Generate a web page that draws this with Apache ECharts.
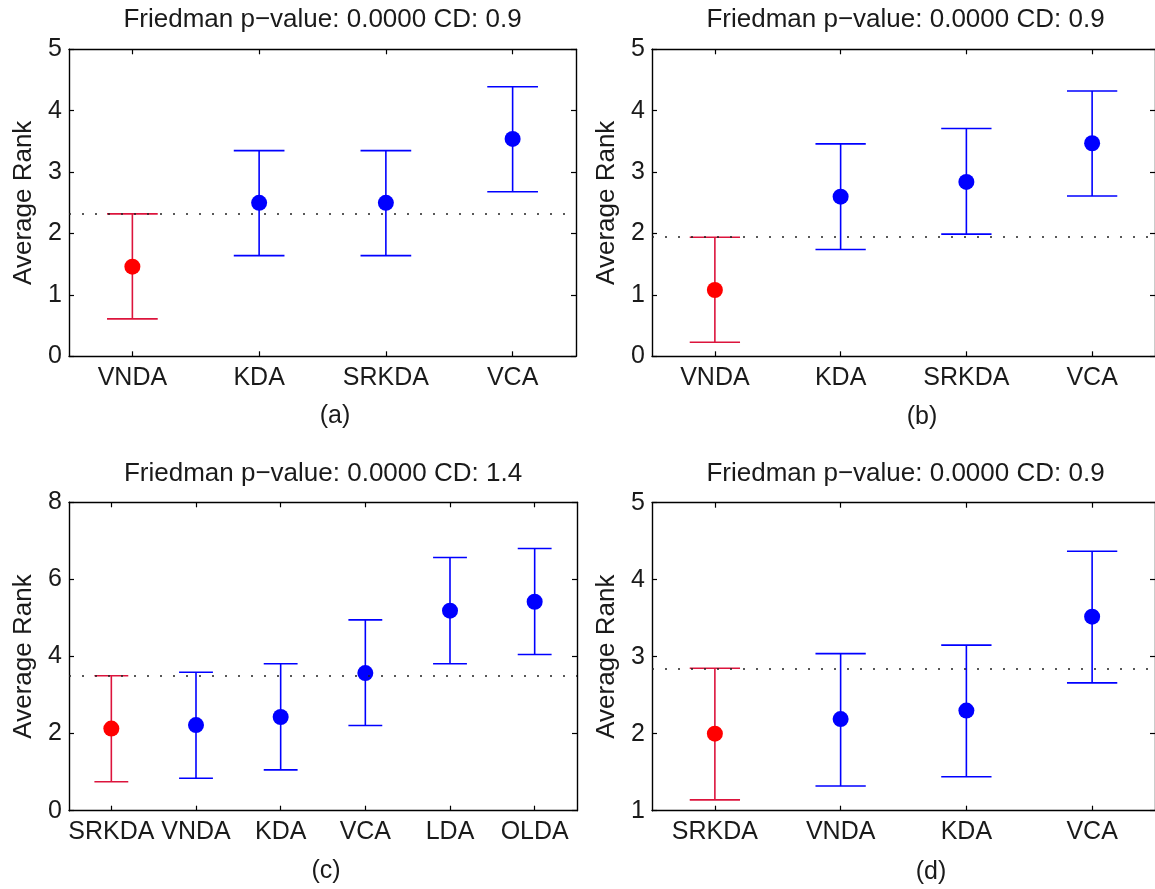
<!DOCTYPE html>
<html>
<head>
<meta charset="utf-8">
<script src="https://cdn.jsdelivr.net/npm/echarts@6/dist/echarts.min.js"></script>
<style>
html,body{margin:0;padding:0;background:#fff;}
#chart{width:1155px;height:889px;}
</style>
</head>
<body>
<div id="chart"></div>
<script>
// ---------- data ----------
const catsA = ['VNDA', 'KDA', 'SRKDA', 'VCA'];
const meanA = [1.46, 2.50, 2.50, 3.54];
const lowA  = [0.61, 1.64, 1.64, 2.68];
const highA = [2.32, 3.35, 3.35, 4.39];
const ticksA = [0, 1, 2, 3, 4, 5];
const titleA = 'Friedman p\u2212value: 0.0000 CD: 0.9';

const catsB = ['VNDA', 'KDA', 'SRKDA', 'VCA'];
const meanB = [1.08, 2.60, 2.84, 3.47];
const lowB  = [0.23, 1.74, 1.99, 2.61];
const highB = [1.94, 3.46, 3.71, 4.32];
const ticksB = [0, 1, 2, 3, 4, 5];
const titleB = 'Friedman p\u2212value: 0.0000 CD: 0.9';

const catsC = ['SRKDA', 'VNDA', 'KDA', 'VCA', 'LDA', 'OLDA'];
const meanC = [2.13, 2.22, 2.43, 3.57, 5.19, 5.42];
const lowC  = [0.75, 0.84, 1.06, 2.21, 3.81, 4.05];
const highC = [3.50, 3.59, 3.81, 4.95, 6.57, 6.80];
const ticksC = [0, 2, 4, 6, 8];
const titleC = 'Friedman p\u2212value: 0.0000 CD: 1.4';

const catsD = ['SRKDA', 'VNDA', 'KDA', 'VCA'];
const meanD = [2.00, 2.19, 2.30, 3.52];
const lowD  = [1.14, 1.32, 1.44, 2.66];
const highD = [2.85, 3.04, 3.15, 4.37];
const ticksD = [1, 2, 3, 4, 5];
const titleD = 'Friedman p\u2212value: 0.0000 CD: 0.9';

const bestIndex = [0, 0, 0, 0];   // highlighted (red) method in each panel
const captions = ['(a)', '(b)', '(c)', '(d)'];

// ---------- layout & style ----------
const FONT = '"Liberation Sans", Arial, Helvetica, sans-serif';
const BLUE = '#0000ff';
const RED_DOT = '#ff0000';
const RED_LINE = '#dc143c';
const TEXT = '#1a1a1a';
const grids = [
  {left: 69,  top: 49.3,  width: 507, height: 307},
  {left: 652, top: 49.3,  width: 507, height: 307},
  {left: 69,  top: 502.3, width: 508, height: 308.4},
  {left: 652, top: 502.7, width: 507, height: 308}
];
const titlePos = [
  {x: 322.5, y: 7}, {x: 905.5, y: 7}, {x: 323, y: 461}, {x: 905.5, y: 461}
];
const captionPos = [
  {x: 335, y: 404}, {x: 922, y: 405}, {x: 326, y: 859}, {x: 931, y: 860}
];

const panels = [
  {cats: catsA, mean: meanA, low: lowA, high: highA, ticks: ticksA, title: titleA},
  {cats: catsB, mean: meanB, low: lowB, high: highB, ticks: ticksB, title: titleB},
  {cats: catsC, mean: meanC, low: lowC, high: highC, ticks: ticksC, title: titleC},
  {cats: catsD, mean: meanD, low: lowD, high: highD, ticks: ticksD, title: titleD}
];

const option = {
  animation: false,
  backgroundColor: '#fff',
  title: [], grid: [], xAxis: [], yAxis: [], series: []
};

panels.forEach((p, k) => {
  const best = bestIndex[k];
  option.grid.push(Object.assign({containLabel: false}, grids[k]));
  option.title.push({
    text: p.title, left: titlePos[k].x, top: titlePos[k].y, textAlign: 'center', padding: 0,
    textStyle: {fontFamily: FONT, fontSize: 26, fontWeight: 'normal', color: TEXT}
  });
  option.title.push({
    text: captions[k], left: captionPos[k].x, top: captionPos[k].y, textAlign: 'center', padding: 0,
    textStyle: {fontFamily: FONT, fontSize: 25, fontWeight: 'normal', color: TEXT}
  });
  const axLine = {show: true, onZero: false, lineStyle: {color: '#000', width: 1.4}};
  const tick = {show: true, inside: true, length: 5, alignWithLabel: true, lineStyle: {color: '#000', width: 1.2}};
  const yMin = p.ticks[0], yMax = p.ticks[p.ticks.length - 1], yInt = p.ticks[1] - p.ticks[0];
  // bottom x axis
  option.xAxis.push({
    type: 'category', gridIndex: k, data: p.cats, position: 'bottom', boundaryGap: true,
    axisLine: axLine, axisTick: tick,
    axisLabel: {fontFamily: FONT, fontSize: 25, color: TEXT, margin: 9, interval: 0},
    splitLine: {show: false}
  });
  const xBottom = option.xAxis.length - 1;
  // top x axis (box)
  option.xAxis.push({
    type: 'category', gridIndex: k, data: p.cats, position: 'top', boundaryGap: true,
    axisLine: axLine, axisTick: tick, axisLabel: {show: false}, splitLine: {show: false}
  });
  // left y axis
  option.yAxis.push({
    type: 'value', gridIndex: k, min: yMin, max: yMax, interval: yInt, position: 'left',
    name: 'Average Rank', nameLocation: 'middle', nameRotate: 90, nameGap: 32,
    nameTextStyle: {fontFamily: FONT, fontSize: 26, color: TEXT},
    axisLine: axLine, axisTick: {show: true, inside: true, length: 5, lineStyle: {color: '#000', width: 1.2}},
    axisLabel: {fontFamily: FONT, fontSize: 25, color: TEXT, margin: 7},
    splitLine: {show: false}
  });
  const yLeft = option.yAxis.length - 1;
  // right y axis (box)
  option.yAxis.push({
    type: 'value', gridIndex: k, min: yMin, max: yMax, interval: yInt, position: 'right',
    axisLine: axLine, axisTick: {show: true, inside: true, length: 5, lineStyle: {color: '#000', width: 1.2}},
    axisLabel: {show: false}, splitLine: {show: false}
  });

  // error bars
  option.series.push({
    type: 'custom', xAxisIndex: xBottom, yAxisIndex: yLeft, z: 3,
    data: p.cats.map((c, i) => [i, p.low[i], p.high[i]]),
    renderItem: function (params, api) {
      const i = api.value(0);
      const pLo = api.coord([i, api.value(1)]);
      const pHi = api.coord([i, api.value(2)]);
      const half = api.size([1, 0])[0] * 0.2;
      const col = params.dataIndex === best ? RED_LINE : BLUE;
      const st = {stroke: col, lineWidth: 1.6, fill: null};
      return {
        type: 'group',
        children: [
          {type: 'line', shape: {x1: pLo[0], y1: pLo[1], x2: pHi[0], y2: pHi[1]}, style: st},
          {type: 'line', shape: {x1: pLo[0] - half, y1: pLo[1], x2: pLo[0] + half, y2: pLo[1]}, style: st},
          {type: 'line', shape: {x1: pHi[0] - half, y1: pHi[1], x2: pHi[0] + half, y2: pHi[1]}, style: st}
        ]
      };
    }
  });
  // means + CD reference line
  option.series.push({
    type: 'scatter', xAxisIndex: xBottom, yAxisIndex: yLeft, z: 4,
    symbol: 'circle', symbolSize: 16,
    itemStyle: {opacity: 1},
    data: p.mean.map((m, i) => ({value: [i, m], itemStyle: {color: i === best ? RED_DOT : BLUE, opacity: 1}})),
    markLine: {
      silent: true, symbol: ['none', 'none'], label: {show: false},
      lineStyle: {type: [2, 11], color: '#222', width: 1.6, opacity: 1},
      data: [{yAxis: p.high[best]}]
    }
  });
});

const chart = echarts.init(document.getElementById('chart'), null, {renderer: 'canvas'});
chart.setOption(option);
</script>
</body>
</html>
